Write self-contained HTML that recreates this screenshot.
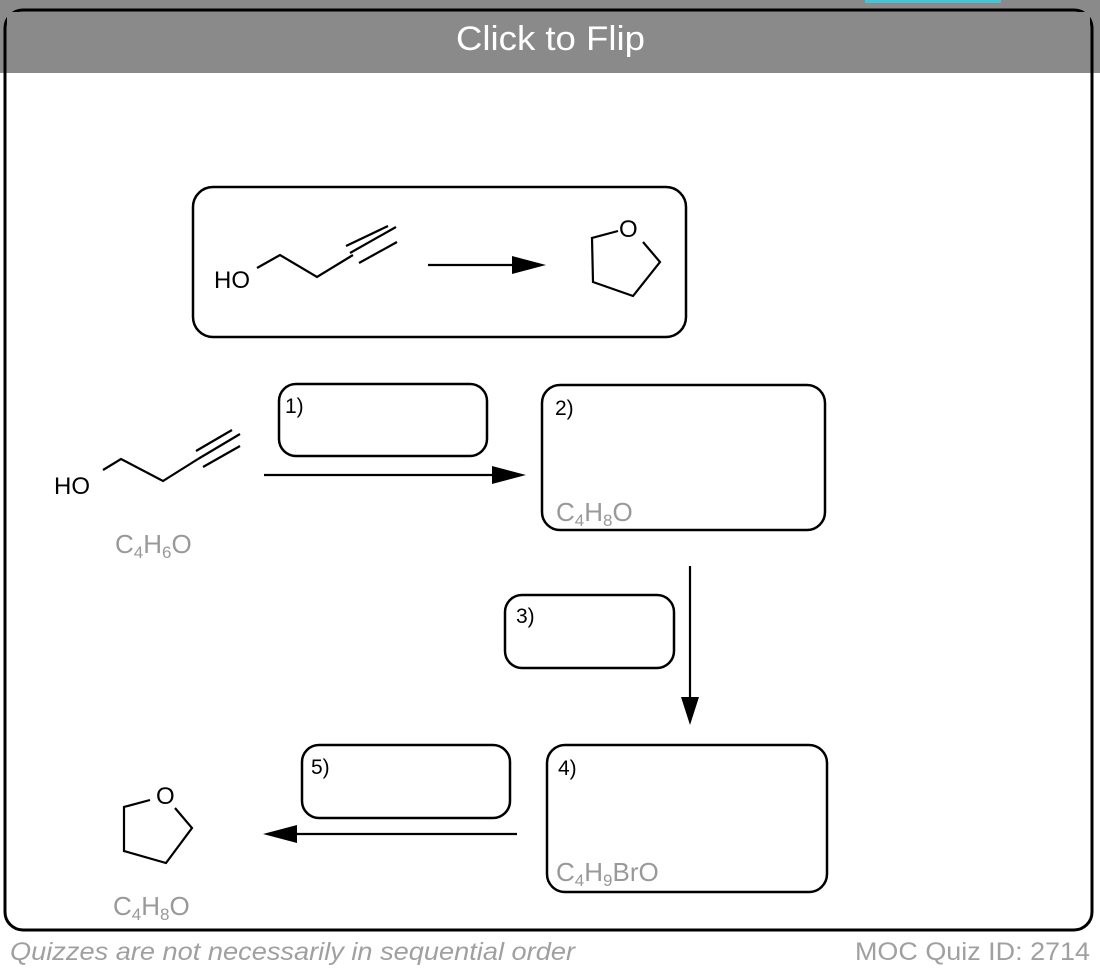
<!DOCTYPE html>
<html><head><meta charset="utf-8"><style>
html,body{margin:0;padding:0;background:#fff;width:1100px;height:972px;overflow:hidden}
svg{display:block}
</style></head><body>
<svg width="1100" height="972" viewBox="0 0 1100 972" xmlns="http://www.w3.org/2000/svg" font-family="Liberation Sans, Arial, sans-serif">
<rect x="0" y="0" width="1100" height="972" fill="#fff"/>
<rect x="0" y="0" width="1100" height="73" fill="#8a8a8a"/>
<rect x="865" y="0" width="136" height="3" fill="#3cc8d8"/>
<rect x="5" y="10" width="1087" height="920" rx="18" fill="none" stroke="#000" stroke-width="3"/>
<rect x="7" y="12" width="1083" height="61" fill="#8a8a8a"/>
<text x="456" y="50" fill="#fff" font-size="34" textLength="189" lengthAdjust="spacingAndGlyphs">Click to Flip</text>

<g fill="none" stroke="#000" stroke-width="2.5" stroke-linejoin="round">
<rect x="193" y="187" width="493" height="150" rx="20"/>
<rect x="279" y="384" width="208" height="72" rx="17"/>
<rect x="542" y="385" width="283" height="145" rx="18"/>
<rect x="505" y="595" width="169" height="73" rx="17"/>
<rect x="547" y="745" width="280" height="147" rx="18"/>
<rect x="302" y="745" width="208" height="73" rx="17"/>
</g>

<g fill="none" stroke="#000" stroke-width="2.2">
<polyline points="257,268 280,255 317,277 353,255"/>
<line x1="350" y1="253" x2="396" y2="227"/>
<line x1="346" y1="246" x2="388" y2="226"/>
<line x1="359" y1="263" x2="397" y2="242"/>
<line x1="428" y1="265" x2="520" y2="265"/>
<polyline points="618,231 592,238 593,282 633,296 660,262 643,242"/>
<polyline points="103,470 121,459 163,481 198,459"/>
<line x1="198" y1="459" x2="240" y2="434"/>
<line x1="196" y1="451" x2="232" y2="430"/>
<line x1="203" y1="467" x2="240" y2="446"/>
<line x1="264" y1="475" x2="505" y2="475"/>
<line x1="690" y1="566" x2="690" y2="705"/>
<line x1="517" y1="834" x2="285" y2="834"/>
<polyline points="150,800 124,807 124,851 166,863 192,828 175,808"/>
</g>
<g fill="#000">
<polygon points="546,265 512,256 512,274"/>
<polygon points="526,475 492,466 492,484"/>
<polygon points="690,725 681,697 699,697"/>
<polygon points="263,834 297,825 297,843"/>
</g>

<g font-size="24" fill="#000">
<text x="214" y="288">HO</text>
<text x="619" y="237">O</text>
<text x="54" y="494">HO</text>
<text x="156" y="804">O</text>
</g>
<g font-size="21" fill="#000">
<text x="285" y="413">1)</text>
<text x="555" y="415">2)</text>
<text x="516" y="623">3)</text>
<text x="558" y="775">4)</text>
<text x="311" y="774">5)</text>
</g>
<g font-size="26" fill="#999">
<text x="115" y="553">C<tspan font-size="17" dy="5">4</tspan><tspan dy="-5">H</tspan><tspan font-size="17" dy="5">6</tspan><tspan dy="-5">O</tspan></text>
<text x="556" y="521">C<tspan font-size="17" dy="5">4</tspan><tspan dy="-5">H</tspan><tspan font-size="17" dy="5">8</tspan><tspan dy="-5">O</tspan></text>
<text x="556" y="881">C<tspan font-size="17" dy="5">4</tspan><tspan dy="-5">H</tspan><tspan font-size="17" dy="5">9</tspan><tspan dy="-5">BrO</tspan></text>
<text x="113" y="915">C<tspan font-size="17" dy="5">4</tspan><tspan dy="-5">H</tspan><tspan font-size="17" dy="5">8</tspan><tspan dy="-5">O</tspan></text>
</g>
<text x="10" y="960" font-size="25" font-style="italic" fill="#a0a0a0" textLength="565" lengthAdjust="spacingAndGlyphs">Quizzes are not necessarily in sequential order</text>
<text x="855" y="960" font-size="25" fill="#a0a0a0" textLength="235" lengthAdjust="spacingAndGlyphs">MOC Quiz ID: 2714</text>
</svg>
</body></html>
